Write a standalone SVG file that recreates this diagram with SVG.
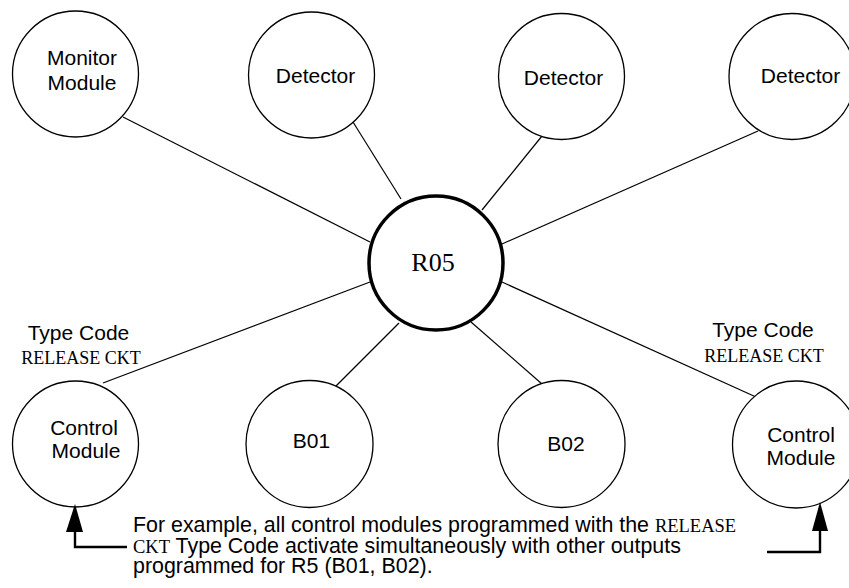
<svg xmlns="http://www.w3.org/2000/svg" width="849" height="588" viewBox="0 0 849 588">
<style>
.node{fill:#fff;stroke:#000;stroke-width:1.3}
.hub{fill:#fff;stroke:#000;stroke-width:3.5}
.lbl{font-family:"Liberation Sans",Arial,sans-serif;font-size:21px;fill:#000;text-anchor:middle}
.tms{font-family:"Liberation Serif","Times New Roman",serif;fill:#000}
.cap{font-family:"Liberation Sans",Arial,sans-serif;font-size:21.4px;fill:#000}
.conn line{stroke:#000;stroke-width:1.2}
.arr{fill:none;stroke:#000;stroke-width:2.4}
</style>
<rect width="849" height="588" fill="#fff"/>
<g id="connectors" class="conn">
<line x1="123" y1="117" x2="370" y2="242"/>
<line x1="353" y1="122" x2="401" y2="199"/>
<line x1="542" y1="136" x2="482" y2="210"/>
<line x1="758" y1="131" x2="502" y2="244"/>
<line x1="370" y1="282" x2="103" y2="383"/>
<line x1="399" y1="323" x2="334" y2="388"/>
<line x1="471" y1="322" x2="542" y2="384"/>
<line x1="502" y1="282" x2="756" y2="397"/>
</g>
<g id="monitor">
<circle class="node" cx="75.5" cy="74" r="63"/>
<text class="lbl" x="82" y="65">Monitor</text>
<text class="lbl" x="82" y="90">Module</text>
</g>
<g id="detector1">
<circle class="node" cx="311.5" cy="75" r="63"/>
<text class="lbl" x="315.5" y="83">Detector</text>
</g>
<g id="detector2">
<circle class="node" cx="561.5" cy="76.5" r="63"/>
<text class="lbl" x="563.5" y="85">Detector</text>
</g>
<g id="detector3">
<circle class="node" cx="792" cy="76.5" r="63"/>
<text class="lbl" x="800.5" y="83">Detector</text>
</g>
<g id="r05">
<circle class="hub" cx="436" cy="263" r="67"/>
<text class="tms" x="433" y="271" font-size="26" text-anchor="middle">R05</text>
</g>
<g id="control1">
<circle class="node" cx="75.5" cy="444" r="63"/>
<text class="lbl" x="84" y="435">Control</text>
<text class="lbl" x="86" y="458">Module</text>
<text class="lbl" x="78.5" y="340">Type Code</text>
<text class="tms" x="81" y="364" font-size="18" text-anchor="middle">RELEASE CKT</text>
</g>
<g id="b01">
<circle class="node" cx="309.5" cy="444" r="63.5"/>
<text class="lbl" x="311.5" y="448">B01</text>
</g>
<g id="b02">
<circle class="node" cx="561.5" cy="444" r="63.5"/>
<text class="lbl" x="566" y="451">B02</text>
</g>
<g id="control2">
<circle class="node" cx="796" cy="444.5" r="63.5"/>
<text class="lbl" x="801" y="442">Control</text>
<text class="lbl" x="801" y="465">Module</text>
<text class="lbl" x="763" y="337">Type Code</text>
<text class="tms" x="764" y="362" font-size="18" text-anchor="middle">RELEASE CKT</text>
</g>
<g id="note">
<polygon points="75,504 66,532 83,532" fill="#000"/>
<polyline class="arr" points="75,530 75,547 127,547"/>
<polygon points="820,502 812,531 828,531" fill="#000"/>
<polyline class="arr" points="767,552 820,552 820,529"/>
<text class="cap" x="133" y="532">For example, all control modules programmed with the <tspan class="tms" font-size="18.5">RELEASE</tspan></text>
<text class="cap" x="133" y="553"><tspan class="tms" font-size="18.5">CKT</tspan> Type Code activate simultaneously with other outputs</text>
<text class="cap" x="133" y="573">programmed for R5 (B01, B02).</text>
</g>
</svg>
